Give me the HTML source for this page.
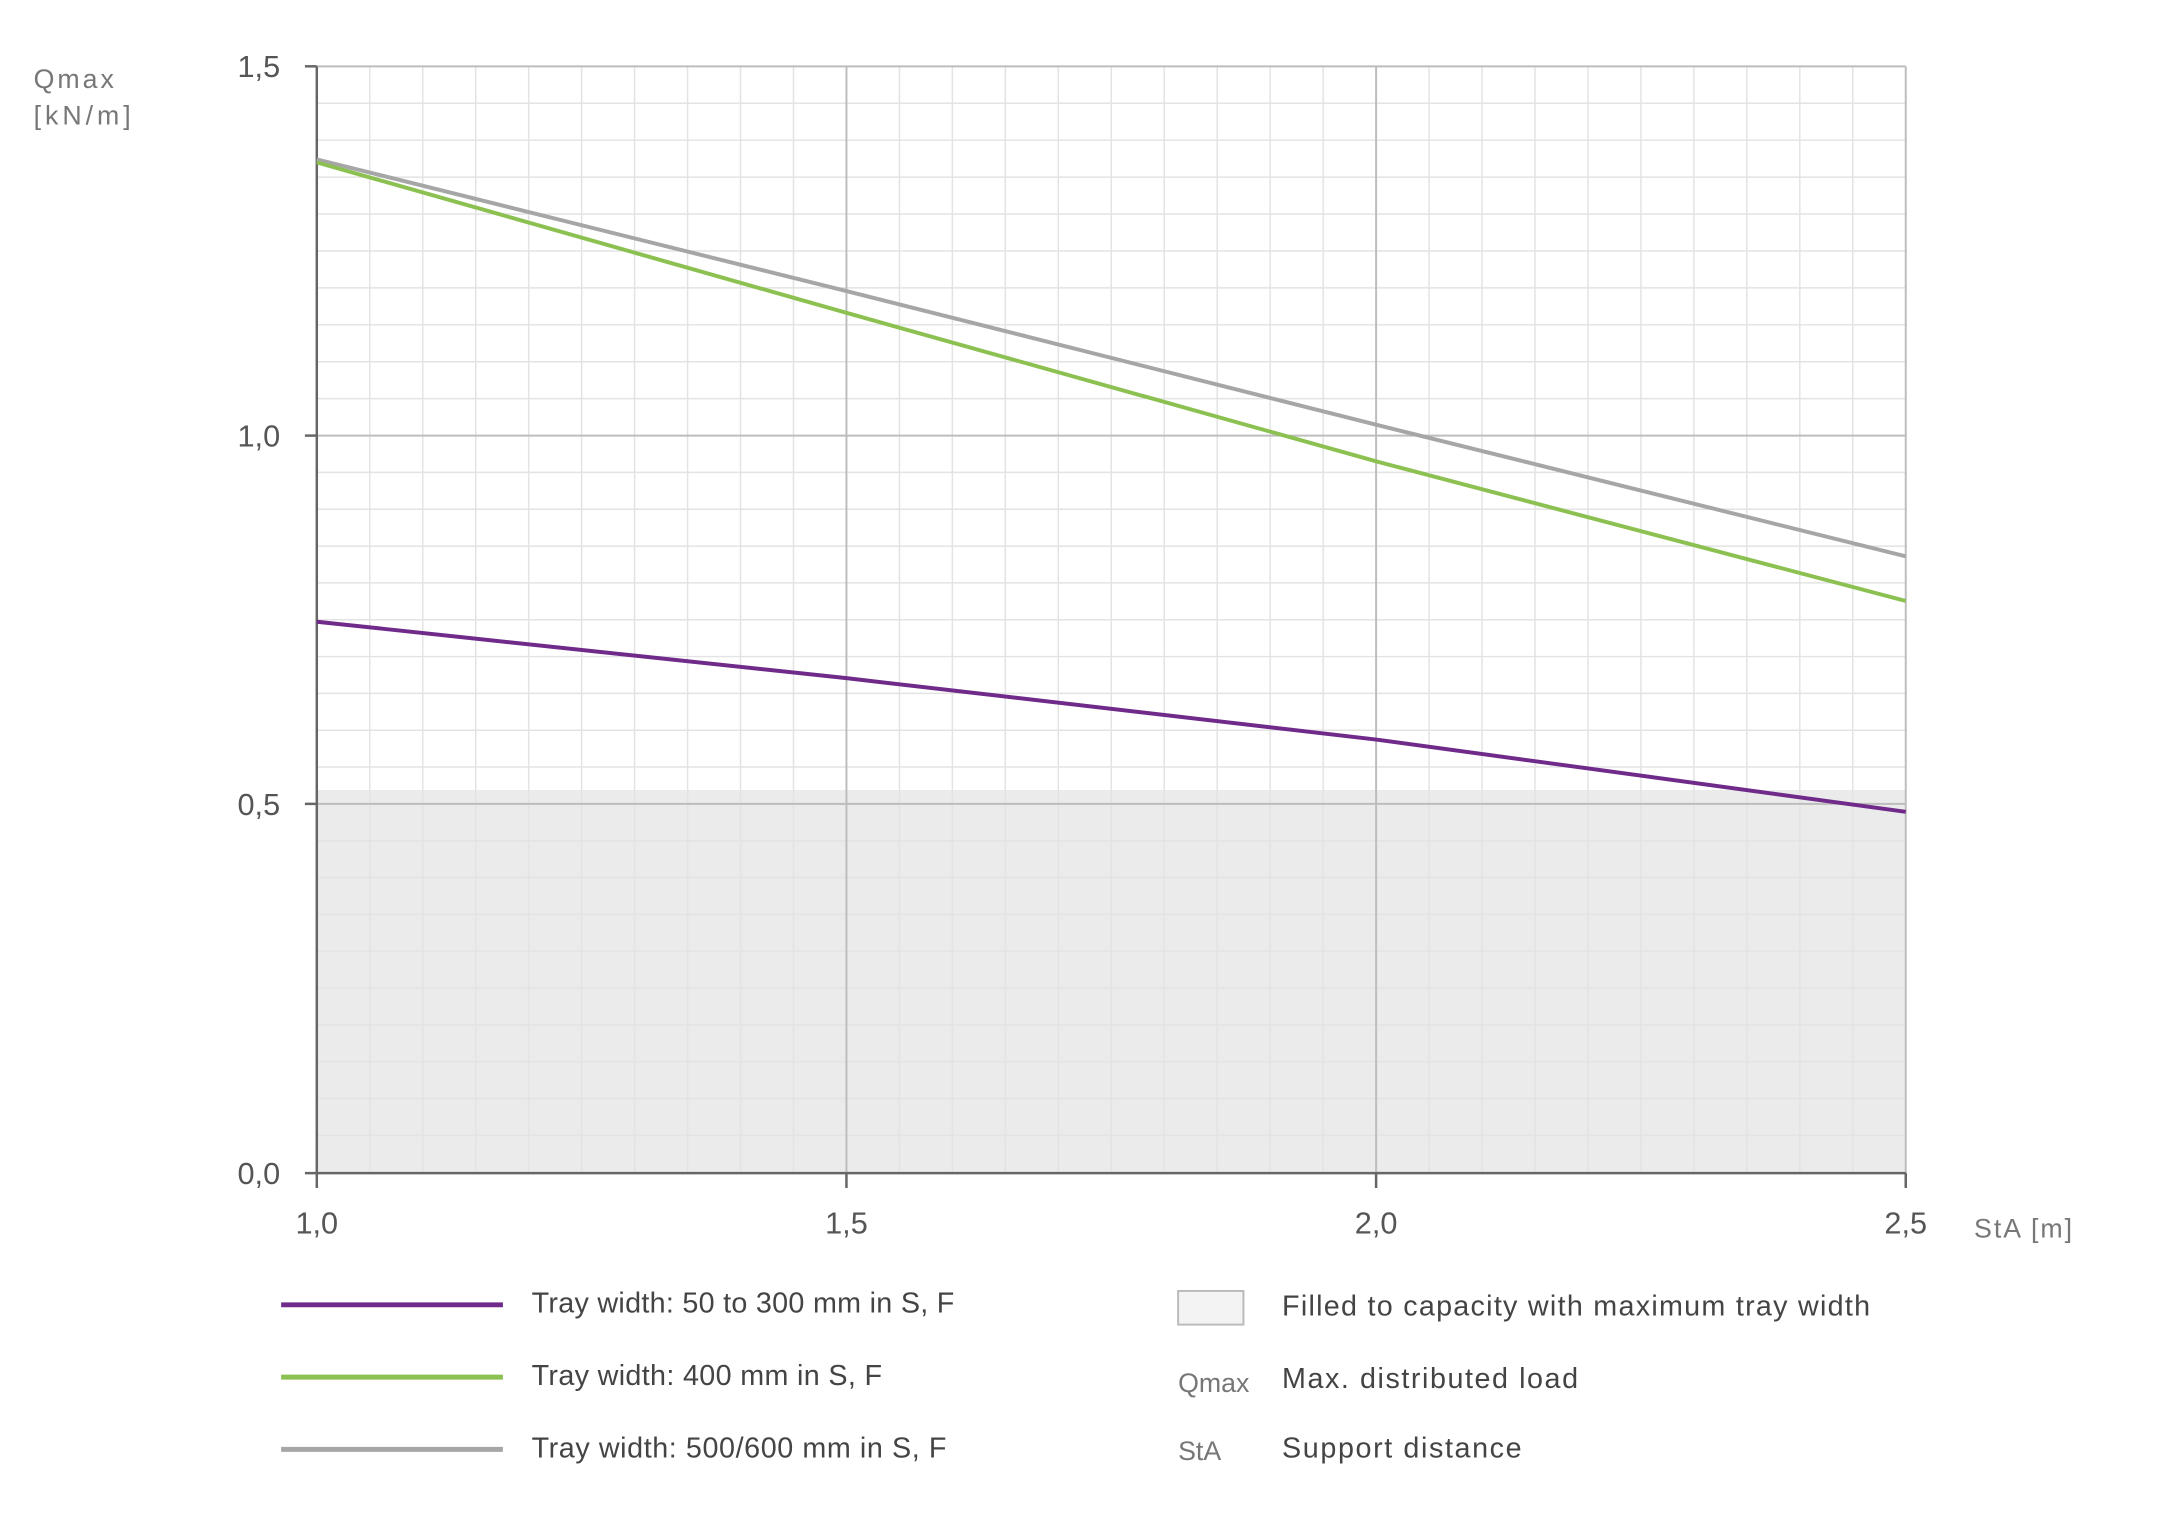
<!DOCTYPE html>
<html><head><meta charset="utf-8"><style>
body{margin:0;background:#fff;}
svg text{font-family:"Liberation Sans",sans-serif;}
</style></head><body>
<svg width="2160" height="1529" viewBox="0 0 2160 1529" xmlns="http://www.w3.org/2000/svg">
<rect width="2160" height="1529" fill="#fff"/>
<g transform="scale(0.99)">
<rect x="320" y="798" width="1605" height="387" fill="#ebebeb"/>
<g stroke="#e3e3e3" stroke-width="1.5">
<line x1="373.5" y1="67" x2="373.5" y2="1185"/><line x1="427" y1="67" x2="427" y2="1185"/><line x1="480.5" y1="67" x2="480.5" y2="1185"/><line x1="534" y1="67" x2="534" y2="1185"/><line x1="587.5" y1="67" x2="587.5" y2="1185"/><line x1="641" y1="67" x2="641" y2="1185"/><line x1="694.5" y1="67" x2="694.5" y2="1185"/><line x1="748" y1="67" x2="748" y2="1185"/><line x1="801.5" y1="67" x2="801.5" y2="1185"/>
<line x1="908.5" y1="67" x2="908.5" y2="1185"/><line x1="962" y1="67" x2="962" y2="1185"/><line x1="1015.5" y1="67" x2="1015.5" y2="1185"/><line x1="1069" y1="67" x2="1069" y2="1185"/><line x1="1122.5" y1="67" x2="1122.5" y2="1185"/><line x1="1176" y1="67" x2="1176" y2="1185"/><line x1="1229.5" y1="67" x2="1229.5" y2="1185"/><line x1="1283" y1="67" x2="1283" y2="1185"/><line x1="1336.5" y1="67" x2="1336.5" y2="1185"/>
<line x1="1443.5" y1="67" x2="1443.5" y2="1185"/><line x1="1497" y1="67" x2="1497" y2="1185"/><line x1="1550.5" y1="67" x2="1550.5" y2="1185"/><line x1="1604" y1="67" x2="1604" y2="1185"/><line x1="1657.5" y1="67" x2="1657.5" y2="1185"/><line x1="1711" y1="67" x2="1711" y2="1185"/><line x1="1764.5" y1="67" x2="1764.5" y2="1185"/><line x1="1818" y1="67" x2="1818" y2="1185"/><line x1="1871.5" y1="67" x2="1871.5" y2="1185"/>
<line x1="320" y1="104.3" x2="1925" y2="104.3"/><line x1="320" y1="141.6" x2="1925" y2="141.6"/><line x1="320" y1="178.9" x2="1925" y2="178.9"/><line x1="320" y1="216.2" x2="1925" y2="216.2"/><line x1="320" y1="253.5" x2="1925" y2="253.5"/><line x1="320" y1="290.8" x2="1925" y2="290.8"/><line x1="320" y1="328.1" x2="1925" y2="328.1"/><line x1="320" y1="365.4" x2="1925" y2="365.4"/><line x1="320" y1="402.7" x2="1925" y2="402.7"/>
<line x1="320" y1="477.2" x2="1925" y2="477.2"/><line x1="320" y1="514.4" x2="1925" y2="514.4"/><line x1="320" y1="551.6" x2="1925" y2="551.6"/><line x1="320" y1="588.8" x2="1925" y2="588.8"/><line x1="320" y1="626" x2="1925" y2="626"/><line x1="320" y1="663.2" x2="1925" y2="663.2"/><line x1="320" y1="700.4" x2="1925" y2="700.4"/><line x1="320" y1="737.6" x2="1925" y2="737.6"/><line x1="320" y1="774.8" x2="1925" y2="774.8"/>
<line x1="320" y1="849.2" x2="1925" y2="849.2"/><line x1="320" y1="886.4" x2="1925" y2="886.4"/><line x1="320" y1="923.6" x2="1925" y2="923.6"/><line x1="320" y1="960.8" x2="1925" y2="960.8"/><line x1="320" y1="998" x2="1925" y2="998"/><line x1="320" y1="1035.2" x2="1925" y2="1035.2"/><line x1="320" y1="1072.4" x2="1925" y2="1072.4"/><line x1="320" y1="1109.6" x2="1925" y2="1109.6"/><line x1="320" y1="1146.8" x2="1925" y2="1146.8"/>
</g>
<g stroke="#bdbdbd" stroke-width="2">
<line x1="855" y1="67" x2="855" y2="1185"/><line x1="1390" y1="67" x2="1390" y2="1185"/><line x1="1925" y1="67" x2="1925" y2="1200"/>
<line x1="320" y1="67" x2="1925" y2="67"/><line x1="320" y1="440" x2="1925" y2="440"/><line x1="320" y1="812" x2="1925" y2="812"/>
</g>
<g stroke="#666" stroke-width="2.5">
<line x1="320" y1="67" x2="320" y2="1200"/><line x1="308" y1="1185" x2="1925" y2="1185"/>
<line x1="308" y1="67" x2="320" y2="67"/><line x1="308" y1="440" x2="320" y2="440"/><line x1="308" y1="812" x2="320" y2="812"/>
<line x1="855" y1="1185" x2="855" y2="1200"/><line x1="1390" y1="1185" x2="1390" y2="1200"/><line x1="1925" y1="1185" x2="1925" y2="1200"/>
</g>
<g fill="none" stroke-width="4" stroke-linejoin="round">
<polyline stroke="#a6a6a6" points="320,161 855,294 1390,429 1925,562"/>
<polyline stroke="#8cc152" points="320,164 855,316 1390,466 1925,607"/>
<polyline stroke="#6f2a8a" points="320,628 855,685 1390,747 1925,820"/>
</g>
<g fill="#555" font-size="31">
<text x="283" y="78" text-anchor="end">1,5</text>
<text x="283" y="451" text-anchor="end">1,0</text>
<text x="283" y="823" text-anchor="end">0,5</text>
<text x="283" y="1196" text-anchor="end">0,0</text>
<text x="320" y="1246" text-anchor="middle">1,0</text>
<text x="855" y="1246" text-anchor="middle">1,5</text>
<text x="1390" y="1246" text-anchor="middle">2,0</text>
<text x="1925" y="1246" text-anchor="middle">2,5</text>
</g>
<g fill="#777" font-size="27">
<text x="34" y="89" textLength="81">Qmax</text>
<text x="34" y="126" textLength="98">[kN/m]</text>
<text x="1994" y="1250" textLength="99">StA [m]</text>
</g>
<g stroke-width="5">
<line x1="284" y1="1318" x2="508" y2="1318" stroke="#6f2a8a"/>
<line x1="284" y1="1391" x2="508" y2="1391" stroke="#8cc152"/>
<line x1="284" y1="1464" x2="508" y2="1464" stroke="#a6a6a6"/>
</g>
<rect x="1190" y="1304" width="66" height="34" fill="#f3f3f3" stroke="#bbb" stroke-width="2"/>
<g fill="#444" font-size="29">
<text x="537" y="1326" textLength="427">Tray width: 50 to 300 mm in S, F</text>
<text x="537" y="1399" textLength="354">Tray width: 400 mm in S, F</text>
<text x="537" y="1472" textLength="419">Tray width: 500/600 mm in S, F</text>
<text x="1295" y="1329" textLength="594">Filled to capacity with maximum tray width</text>
<text x="1295" y="1402" textLength="299">Max. distributed load</text>
<text x="1295" y="1472" textLength="242">Support distance</text>
</g>
<g fill="#777" font-size="27">
<text x="1190" y="1406">Qmax</text>
<text x="1190" y="1475">StA</text>
</g>
</g>
</svg>
</body></html>
